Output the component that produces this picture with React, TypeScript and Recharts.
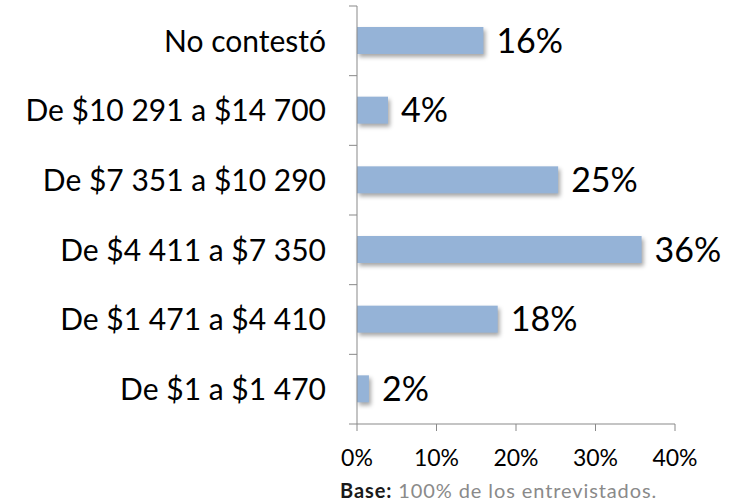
import { BarChart, Bar, XAxis, YAxis, LabelList } from 'recharts'

const categories = [
  'No contestó',
  'De $10 291 a $14 700',
  'De $7 351 a $10 290',
  'De $4 411 a $7 350',
  'De $1 471 a $4 410',
  'De $1 a $1 470',
]
const values = [15.9, 3.9, 25.3, 35.8, 17.7, 1.5]
const xTicks = [0, 10, 20, 30, 40]

const data = categories.map((name, i) => ({ name, value: values[i] }))

const FONT = 'Lato, "Open Sans", sans-serif'
const AXIS = '#898989'
const CHART_H = 503
const MARGIN = { top: 6, right: 64, left: 0, bottom: 39 }
const X_AXIS_H = 40
const BAND = (CHART_H - MARGIN.top - MARGIN.bottom - X_AXIS_H) / categories.length

const ShadowBar = (props: any) => {
  const { x, y, width, height } = props
  return (
    <rect
      x={x}
      y={y}
      width={width}
      height={height}
      fill="#95b3d7"
      style={{ filter: 'drop-shadow(2px 3px 2px rgba(0,0,0,0.35))' }}
    />
  )
}

// category label plus tick marks on the band boundaries (Excel style)
const CatTick = (props: any) => {
  const { x, y, payload, index } = props
  const top = y - BAND / 2
  const bottom = y + BAND / 2
  return (
    <g>
      <line x1={x - 8} x2={x} y1={top} y2={top} stroke={AXIS} />
      {index === categories.length - 1 && <line x1={x - 8} x2={x} y1={bottom} y2={bottom} stroke={AXIS} />}
      <text x={x - 31} y={y} dy="0.36em" textAnchor="end" fill="#000" fontSize={30} fontFamily={FONT}>
        {payload.value}
      </text>
    </g>
  )
}

export default function App() {
  return (
    <div style={{ position: 'absolute', left: 0, top: 0, width: 739, height: 503, background: '#fff', fontFamily: FONT }}>
      <BarChart
        width={739}
        height={CHART_H}
        data={data}
        layout="vertical"
        margin={MARGIN}
        barSize={27}
      >
        <XAxis
          type="number"
          domain={[0, 40]}
          ticks={xTicks}
          tickFormatter={(v) => `${v}%`}
          axisLine={{ stroke: AXIS }}
          tickLine={{ stroke: AXIS }}
          tickSize={7}
          tickMargin={19}
          height={X_AXIS_H}
          tick={{ fill: '#000', fontSize: 23, fontFamily: FONT }}
        />
        <YAxis
          type="category"
          dataKey="name"
          width={357}
          axisLine={{ stroke: AXIS }}
          tickLine={false}
          tickSize={0}
          tickMargin={0}
          tick={<CatTick />}
        />
        <Bar dataKey="value" shape={ShadowBar} isAnimationActive={false}>
          <LabelList
            dataKey="value"
            position="right"
            offset={13}
            formatter={(v: any) => `${Math.round(v)}%`}
            style={{ fill: '#000', fontSize: 34, fontFamily: FONT }}
          />
        </Bar>
      </BarChart>
      <div style={{ position: 'absolute', left: 340, top: 478, fontSize: 20, letterSpacing: 0.9, color: '#8a8a8a', whiteSpace: 'nowrap' }}>
        <b style={{ color: '#1a1a1a' }}>Base:</b> 100% de los entrevistados.
      </div>
    </div>
  )
}
